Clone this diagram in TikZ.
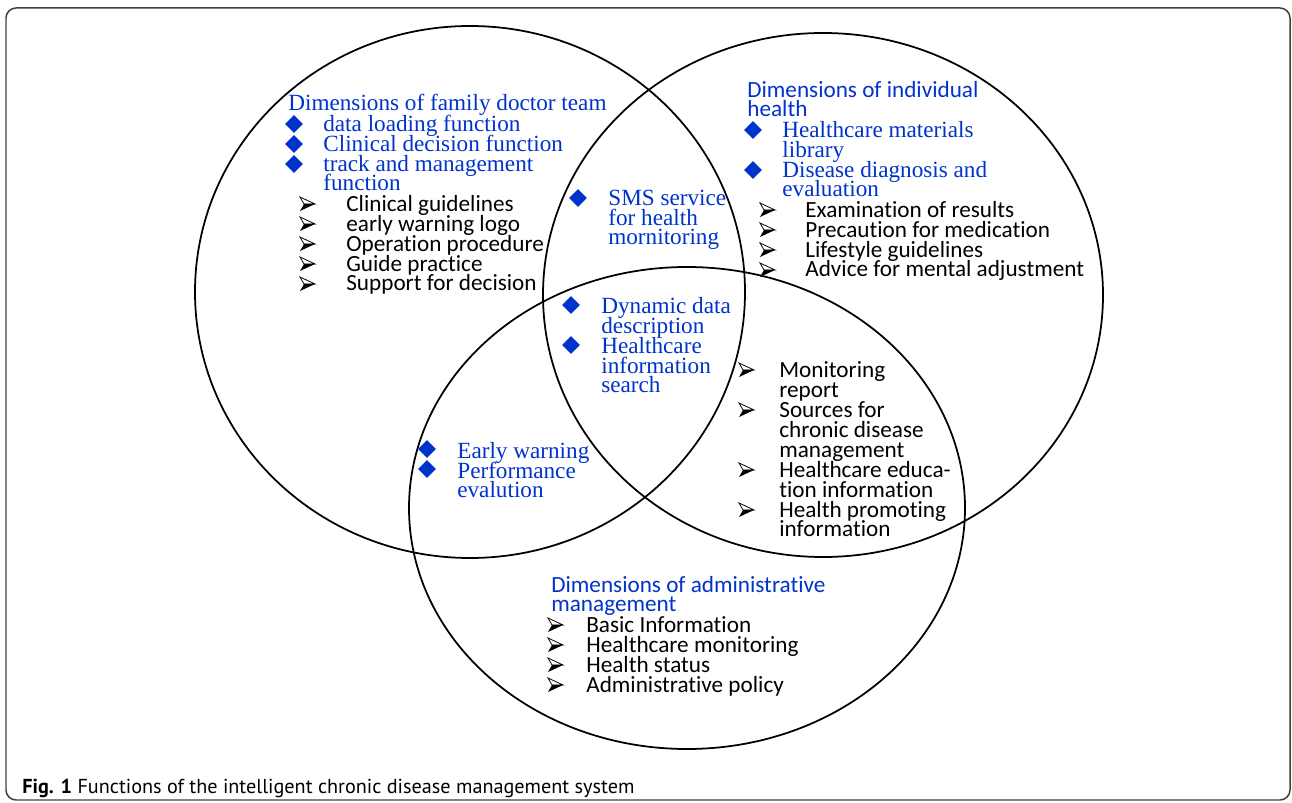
\documentclass[tikz,border=0pt]{standalone}
\usepackage{fontspec}
\setmainfont{Liberation Serif}
\newfontfamily\carlito[Ligatures=NoCommon]{Carlito}
\newfontfamily\capfont{PT Sans}
\usetikzlibrary{shapes.geometric}

\definecolor{docblue}{RGB}{0,51,204}

% tight line spacing, no \lineskip fallback
\newcommand{\tightfont}{\fontsize{13.2}{11.38}\selectfont\lineskiplimit=-\maxdimen}

% multi-line nodes sit on the baseline of their last line
\tikzset{
  serifblue/.style={anchor=base west, inner sep=0pt, align=left, text=docblue,
    font=\tightfont\rmfamily},
  sansblue/.style={anchor=base west, inner sep=0pt, align=left, text=docblue,
    font=\tightfont\carlito},
  sansblack/.style={anchor=base west, inner sep=0pt, align=left, text=black,
    font=\tightfont\carlito},
  dia/.style={diamond, fill=docblue, inner sep=0pt, minimum width=0.36cm, minimum height=0.36cm},
  arrowbul/.pic={
    \draw[line width=0.45pt, line join=miter] (0,-7) -- (15,0) -- (4,0) -- cycle;
    \fill (4,0) -- (15,0) -- (0,7) -- cycle;
  }
}

\begin{document}
\begin{tikzpicture}[x=0.02cm, y=-0.02cm]
% \draw[step=50,gray!50,very thin] (0,0) grid (1292,803);
\useasboundingbox (0,0) rectangle (1292,803);

\draw[black!75, line width=0.85pt, rounded corners=0.2cm] (6,8) rectangle (1290,800);

\coordinate (doc) at (470,292);
\coordinate (ind) at (823,295);
\coordinate (adm) at (687,508);

\draw[line width=1pt] (doc) ellipse [x radius=275, y radius=266];
\draw[line width=1pt] (ind) ellipse [x radius=280, y radius=262];
\draw[line width=1pt] (adm) ellipse [x radius=278, y radius=241];

% family doctor team
\node[serifblue] (doctitle) at (288,111) {Dimensions of family doctor team};
\foreach \y in {124,144,164} \node[dia] at (294,\y) {};
\node[serifblue] (docfun) at (323,191) {data loading function\\Clinical decision function\\track and management\\function};
\foreach \y in {211,231,...,291} \pic at (300,\y-7) {arrowbul};
\node[sansblack] (docsub) at (346,291) {Clinical guidelines\\early warning logo\\Operation procedure\\Guide practice\\Support for decision};

% doctor team and individual health
\node[dia] at (578,198) {};
\node[serifblue] (sms) at (608,245) {SMS service\\for health\\mornitoring};

% all three
\foreach \y in {305,345} \node[dia] at (571,\y) {};
\node[serifblue] (dyn) at (601,393) {Dynamic data\\description\\Healthcare\\information\\search};

% individual health
\node[sansblue] (indtitle) at (747,117) {Dimensions of individual\\health};
\foreach \y in {130,170} \node[dia] at (753,\y) {};
\node[serifblue] (indfun) at (782,197) {Healthcare materials\\library\\Disease diagnosis and\\evaluation};
\foreach \y in {217,237,...,277} \pic at (760,\y-7) {arrowbul};
\node[sansblack] (indsub) at (805,277) {Examination of results\\Precaution for medication\\Lifestyle guidelines\\Advice for mental adjustment};

% individual health and administration
\foreach \y in {377,417,477,517} \pic at (739,\y-7) {arrowbul};
\node[sansblack] (mon) at (779,537) {Monitoring\\report\\Sources for\\chronic disease\\management\\Healthcare educa-\\tion information\\Health promoting\\information};

% doctor team and administration
\foreach \y in {449,469} \node[dia] at (427,\y) {};
\node[serifblue] (warn) at (457,498) {Early warning\\Performance\\evalution};

% administrative management
\node[sansblue] (admtitle) at (551,612) {Dimensions of administrative\\management};
\foreach \y in {632,652,...,692} \pic at (548,\y-7) {arrowbul};
\node[sansblack] (admsub) at (586,692) {Basic Information\\Healthcare monitoring\\Health status\\Administrative policy};

\node[anchor=base west, inner sep=0pt, font=\fontsize{11.5}{13}\selectfont\capfont] (cap) at (22,793)
  {\textbf{Fig. 1} Functions of the intelligent chronic disease management system};
\end{tikzpicture}
\end{document}
